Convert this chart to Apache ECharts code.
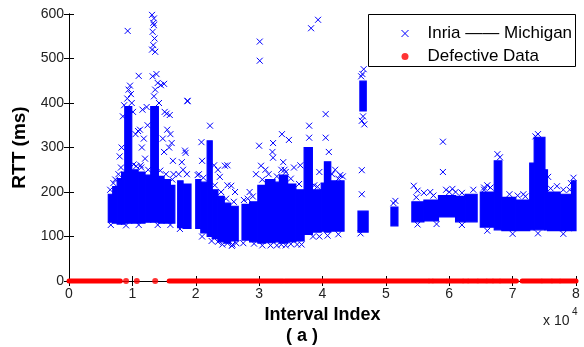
<!DOCTYPE html>
<html><head><meta charset="utf-8">
<script src="https://cdn.jsdelivr.net/npm/echarts@6/dist/echarts.min.js"></script>
<style>html,body{margin:0;padding:0;background:#fff}#c{width:584px;height:347px}</style>
</head><body><div id="c"></div>
<script>
// x axis: Interval Index (shown as x 10^4), y axis: RTT (ms)
const xTickValues = [0, 10000, 20000, 30000, 40000, 50000, 60000, 70000, 80000];
const yTickValues = [0, 100, 200, 300, 400, 500, 600];

// dense (saturated) regions of the Inria -- Michigan scatter: [xStart, xEnd, rttLow, rttHigh]
const denseBlocks = [
  [6200, 6900, 132, 195], [6900, 7600, 130, 212], [7600, 8300, 128, 230], [8300, 8800, 128, 245],
  [8800, 9900, 130, 392], [9900, 10900, 130, 250], [10900, 12000, 130, 245], [12000, 12900, 132, 238],
  [12900, 14100, 132, 392], [14100, 15000, 130, 235], [15000, 16000, 130, 228], [16000, 16700, 130, 215],
  [17150, 18000, 120, 225], [18000, 19250, 118, 218],
  [20000, 20800, 118, 228], [20800, 21800, 108, 222], [21800, 22600, 100, 315], [22600, 23500, 95, 205],
  [23500, 24500, 88, 190], [24500, 25500, 85, 175], [25500, 26700, 90, 168],
  [27300, 28500, 92, 172], [28500, 29800, 88, 178], [29800, 31000, 85, 215], [31000, 32500, 86, 228],
  [32500, 33200, 88, 222], [33200, 34500, 85, 238], [34500, 35800, 88, 218], [35800, 37100, 90, 205],
  [37100, 38400, 105, 300], [38400, 39800, 110, 205], [39800, 40300, 112, 220], [40300, 41300, 110, 268],
  [41300, 43400, 112, 225],
  [45600, 47200, 110, 157], [45900, 46900, 382, 449],
  [50800, 51900, 124, 166],
  [54100, 56000, 133, 178], [56000, 58300, 135, 182], [58300, 61000, 144, 192], [61000, 62500, 133, 190],
  [62500, 64400, 133, 195],
  [64900, 67100, 121, 200], [67100, 68300, 115, 270], [68300, 70500, 113, 188], [70500, 72700, 113, 182],
  [72700, 73400, 115, 265], [73400, 75100, 115, 323], [75100, 75500, 115, 250], [75500, 77500, 113, 200],
  [77500, 79300, 113, 195], [79300, 80000, 113, 225]
];

// individual (sparse) Inria -- Michigan samples: [interval index, RTT ms]
const rttPoints = [
  [9260, 562], [11000, 461], [15000, 443], [18700, 405], [18400, 288], [15900, 373],
  [13100, 598], [13300, 580], [13400, 575], [13200, 560], [13500, 545], [13300, 530], [13100, 520], [13600, 515], [13400, 590],
  [9630, 439], [9400, 430], [9770, 420], [9200, 410], [8700, 395], [9900, 400], [8500, 370], [10100, 380], [8300, 300], [8000, 280], [10500, 330],
  [11200, 340], [11500, 300], [11800, 320], [12250, 391], [10900, 337], [12000, 275], [11300, 260], [12400, 350], [11600, 385],
  [13800, 465], [13200, 460], [14000, 445], [13600, 430], [14500, 440], [13400, 415], [14200, 400],
  [15100, 380], [15400, 376], [15500, 340], [16000, 330], [15800, 300], [16200, 310], [15000, 290], [16400, 270], [14800, 320],
  [18700, 404], [18300, 293], [17800, 267], [17500, 117], [18000, 250], [18600, 240], [17300, 240],
  [22250, 349], [20900, 312], [24600, 259], [23800, 234], [25000, 215], [25700, 79], [25000, 85], [21000, 270],
  [20500, 240], [22900, 260], [23500, 250], [23500, 88], [24200, 82], [25800, 82], [25600, 214], [25000, 260], [26200, 200],
  [30100, 538], [30100, 495], [38200, 568], [39300, 587], [40500, 375], [37900, 349], [37900, 322], [40500, 322],
  [41000, 290], [33600, 330], [34700, 317], [32200, 310], [30000, 304], [32100, 290], [32200, 277], [30300, 259],
  [33800, 267], [31000, 250], [35500, 255], [36500, 260], [34200, 245], [29500, 240], [28500, 200], [39500, 245],
  [42000, 250], [42500, 230], [41800, 210], [31800, 80], [33500, 82], [35000, 83], [36000, 82], [36700, 82], [29200, 84],
  [46200, 249], [46200, 195], [46000, 107], [46500, 476], [46300, 465], [46200, 360], [46600, 352], [46400, 370], [46100, 460],
  [51500, 180], [51200, 175],
  [59000, 313], [59000, 245], [54400, 214], [55000, 203], [59500, 205], [60500, 207], [61000, 200], [57000, 200], [56000, 198],
  [71700, 195], [77000, 213], [75600, 234], [79000, 205], [79200, 220], [66500, 210], [66000, 215], [67600, 285],
  [68000, 278], [74000, 330], [73600, 325], [65500, 205],
  // fuzzy edges of the dense regions
  [6500, 205], [7000, 220], [7300, 228], [7800, 240], [8200, 255], [10200, 262], [10600, 258], [11400, 255],
  [12500, 250], [14400, 248], [15300, 240], [16300, 228], [16500, 240],
  [6600, 126], [9000, 125], [11000, 126], [14000, 126], [16000, 126],
  [20300, 238], [21200, 232], [23000, 215], [24000, 200], [24800, 185], [26000, 178], [21000, 100], [22500, 90], [26400, 85],
  [27600, 182], [28200, 185], [29000, 190], [30500, 228], [31500, 240], [32800, 235], [33500, 250], [34000, 250],
  [35000, 230], [36300, 218], [38700, 215], [39200, 212], [41500, 240], [42800, 238], [43200, 235],
  [27500, 85], [30500, 80], [32800, 80], [34200, 80], [38500, 100], [39500, 100], [40800, 102], [42500, 105],
  [54800, 188], [57500, 192], [60000, 200], [62000, 198], [63800, 205], [55000, 127], [58000, 128], [62000, 126],
  [65500, 210], [69500, 195], [70800, 192], [72000, 190], [76000, 208], [78000, 205], [79600, 232],
  [66000, 113], [70000, 106], [74000, 107], [78000, 106]
];

// defective data (RTT = 0): continuous runs [xStart, xEnd] and isolated samples
const defectiveRuns = [
  [0, 8100], [15800, 33800], [34100, 56700], [56900, 57300], [57500, 59500], [59700, 62100],
  [62300, 62900], [63100, 64400], [64600, 65800], [66000, 66800], [67000, 67900], [68100, 70600],
  [71500, 74500], [74700, 76100], [76300, 77400], [77600, 80000]
];
const defectiveDots = [9000, 10700, 13600];

const FONT = "'Liberation Sans', Arial, sans-serif";
const BLUE = '#0000ff';
const RED = '#ff0000';
const CROSS = 'path://M0,0L10,10M10,0L0,10';

const chart = echarts.init(document.getElementById('c'), null, {renderer: 'canvas'});
const axisLine = {show: true, lineStyle: {color: '#000', width: 1}};
const tick = {show: true, inside: true, length: 5, lineStyle: {color: '#000'}};

chart.setOption({
  animation: false,
  backgroundColor: '#fff',
  grid: {left: 69, right: 8, top: 14, bottom: 66, containLabel: false},
  xAxis: [{
    type: 'value', min: 0, max: 80000, interval: 10000, position: 'bottom',
    axisLine: axisLine, axisTick: tick, splitLine: {show: false},
    axisLabel: {formatter: v => String(v / 10000), fontSize: 14, color: '#222', fontFamily: FONT, margin: 6},
    name: 'Interval Index', nameLocation: 'middle', nameGap: 25,
    nameTextStyle: {fontSize: 18, fontWeight: 'bold', color: '#000', fontFamily: FONT}
  }, {
    type: 'value', min: 0, max: 80000, interval: 10000, position: 'top',
    axisLine: axisLine, axisTick: tick, axisLabel: {show: false}, splitLine: {show: false}
  }],
  yAxis: [{
    type: 'value', min: 0, max: 600, interval: 100, position: 'left',
    axisLine: axisLine, axisTick: tick, splitLine: {show: false},
    axisLabel: {fontSize: 14, color: '#222', fontFamily: FONT, margin: 5},
    name: 'RTT (ms)', nameLocation: 'middle', nameGap: 32,
    nameTextStyle: {fontSize: 19, fontWeight: 'bold', color: '#000', fontFamily: FONT}
  }, {
    type: 'value', min: 0, max: 600, interval: 100, position: 'right',
    axisLine: axisLine, axisTick: tick, axisLabel: {show: false}, splitLine: {show: false}
  }],
  legend: {
    orient: 'vertical', left: 396, top: 20, itemWidth: 7, itemHeight: 7, itemGap: 6, z: 5,
    textStyle: {fontSize: 17, color: '#000', fontFamily: FONT, lineHeight: 17, padding: [0, 0, 0, 14]},
    data: [
      {name: 'Inria —— Michigan', icon: CROSS, itemStyle: {color: 'transparent', borderColor: BLUE, borderWidth: 1}},
      {name: 'Defective Data', icon: 'circle', itemStyle: {color: RED}}
    ]
  },
  graphic: [
    {type: 'rect', z: 3, shape: {x: 368.5, y: 14.5, width: 207, height: 52}, style: {fill: '#fff', stroke: '#000', lineWidth: 1}},
    {type: 'text', left: 286, top: 327, style: {text: '( a )', fontSize: 18, fontWeight: 'bold', fill: '#000', fontFamily: FONT}},
    {type: 'text', left: 543, top: 314, style: {text: 'x 10', fontSize: 14, fill: '#222', fontFamily: FONT}},
    {type: 'text', left: 572, top: 307, style: {text: '4', fontSize: 10, fill: '#222', fontFamily: FONT}}
  ],
  series: [
    {
      name: 'denseRTT', type: 'custom', xAxisIndex: 0, yAxisIndex: 0, z: 2,
      encode: {x: [0, 1], y: [2, 3]},
      data: denseBlocks,
      renderItem: function (params, api) {
        const p0 = api.coord([api.value(0), api.value(3)]);
        const p1 = api.coord([api.value(1), api.value(2)]);
        return {type: 'rect', shape: {x: p0[0], y: p0[1], width: p1[0] - p0[0], height: p1[1] - p0[1]},
                style: {fill: BLUE, stroke: BLUE, lineWidth: 1.2}};
      }
    },
    {
      name: 'Inria —— Michigan', type: 'scatter', xAxisIndex: 0, yAxisIndex: 0, z: 2,
      symbol: CROSS, symbolSize: 6, data: rttPoints,
      itemStyle: {color: 'transparent', borderColor: BLUE, borderWidth: 1, opacity: 1}
    },
    {
      name: 'defectiveRuns', type: 'custom', xAxisIndex: 0, yAxisIndex: 0, z: 3,
      encode: {x: [0, 1]},
      data: defectiveRuns,
      renderItem: function (params, api) {
        const p0 = api.coord([api.value(0), 0]);
        const p1 = api.coord([api.value(1), 0]);
        return {type: 'line', shape: {x1: p0[0], y1: p0[1], x2: p1[0], y2: p1[1]}, style: {stroke: RED, lineWidth: 5, lineCap: 'round'}};
      }
    },
    {
      name: 'Defective Data', type: 'scatter', xAxisIndex: 0, yAxisIndex: 0, z: 3,
      symbol: 'circle', symbolSize: 6, data: defectiveDots.map(x => [x, 0]),
      itemStyle: {color: RED}
    }
  ]
});
</script>
</body></html>
